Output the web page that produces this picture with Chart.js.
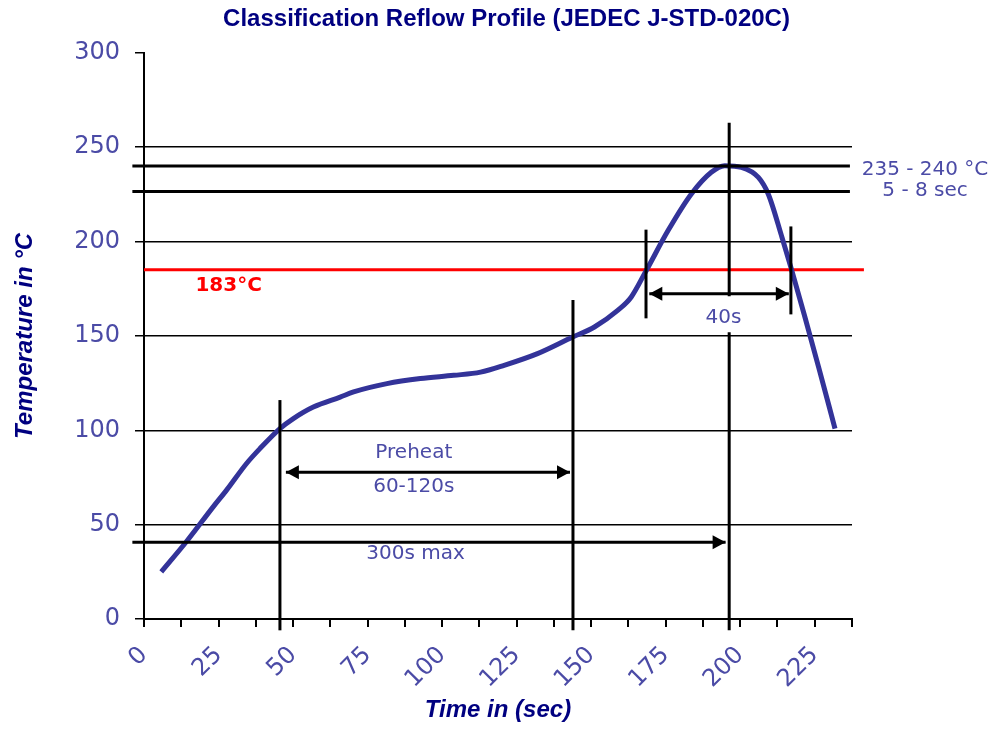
<!DOCTYPE html>
<html>
<head>
<meta charset="utf-8">
<title>Classification Reflow Profile</title>
<script src="https://cdn.jsdelivr.net/npm/chart.js@4.4.0/dist/chart.umd.min.js"></script>
<style>
    html, body { margin: 0; padding: 0; background: #fff; }
</style>
</head>
<body>
<canvas id="reflow" width="993" height="729"></canvas>
<script>
// profile curve
const timeSec = [5.8, 14.2, 23.2, 27.7, 34.4, 38.9, 45.6, 50.1, 56.8, 65.8, 70.3, 81.5, 92.7, 103.9,
    112.9, 120.8, 132, 143.8, 151.1, 158.9, 163.4, 168.5, 175.8, 183.6, 190.3, 194.8, 200.4, 206.1,
    209.4, 214, 217.3, 221.7, 226.3, 231.8];
const tempC = [25.0, 40.9, 59.4, 68.3, 82.4, 90.3, 100.9, 106.2, 112.3, 117.6, 120.3, 124.7, 127.4, 129.1,
    130.8, 134.4, 140.6, 149.4, 154.7, 163.5, 170.5, 184.7, 205.8, 225.2, 236.7, 240.2, 239.3, 234,
    225.2, 202.3, 184.7, 160, 133.5, 100.9];

// axis ticks
const xTicks = [0, 12.5, 25, 37.5, 50, 62.5, 75, 87.5, 100, 112.5, 125, 137.5, 150, 162.5, 175,
    187.5, 200, 212.5, 225, 237.5];
const xLabelEvery = 25;
const yTicks = [0, 50, 100, 150, 200, 250, 300];

// marker lines, [x1, y1, x2, y2] in sec / °C
const blackSegments = [
    [-3.9, 240, 236.8, 240],
    [-3.9, 226.5, 236.8, 226.5],
    [45.6, -6, 45.6, 116],
    [143.9, -6, 143.9, 169],
    [196.3, 263, 196.3, 171],
    [196.3, 152, 196.3, -6],
    [168.4, 159.3, 168.4, 206.3],
    [217.0, 161.4, 217.0, 208]
];
const liquidusSegment = [0, 185, 241.5, 185];

// arrows, [x from, x to, y, heads]
const arrows = [
    [47.6, 142.9, 77.8, 'both'],
    [169.5, 216.3, 172.3, 'both'],
    [-3.9, 195.1, 40.7, 'end']
];

// text notes
const noteTexts = ['Preheat', '60-120s', '300s max', '40s', '235 - 240 °C', '5 - 8 sec'];
const noteX = [90.5, 90.5, 91.1, 194.4, 262, 262];
const noteY = [87.8, 69.8, 34.4, 159.8, 238.1, 227];

const BLUE_TEXT = '#4b4ba6';
const NAVY = '#000080';

function segData(s) {
    return [{ x: s[0], y: s[1] }, { x: s[2], y: s[3] }];
}

const datasets = [{
    data: timeSec.map((t, i) => ({ x: t, y: tempC[i] })),
    showLine: true,
    borderColor: '#333399',
    borderWidth: 5,
    pointRadius: 0,
    cubicInterpolationMode: 'monotone',
    clip: false,
    order: 2
}, {
    data: segData(liquidusSegment),
    showLine: true,
    borderColor: '#ff0000',
    borderWidth: 3,
    pointRadius: 0,
    clip: false,
    order: 3
}];

blackSegments.forEach(s => {
    datasets.push({
        data: segData(s),
        showLine: true,
        borderColor: '#000',
        borderWidth: 3,
        pointRadius: 0,
        clip: false,
        order: 1
    });
});
arrows.forEach(a => {
    datasets.push({
        data: [{ x: a[0], y: a[2] }, { x: a[1], y: a[2] }],
        showLine: true,
        borderColor: '#000',
        borderWidth: 3,
        pointRadius: 0,
        clip: false,
        order: 1
    });
});

// arrow heads and text notes
const notesPlugin = {
    id: 'reflowNotes',
    afterDatasetsDraw(chart) {
        const ctx = chart.ctx;
        const xs = chart.scales.x;
        const ys = chart.scales.y;
        ctx.save();

        ctx.fillStyle = '#000';
        const head = (px, py, dir) => {
            ctx.beginPath();
            ctx.moveTo(px, py);
            ctx.lineTo(px - dir * 13, py - 7);
            ctx.lineTo(px - dir * 13, py + 7);
            ctx.closePath();
            ctx.fill();
        };
        arrows.forEach(a => {
            const py = ys.getPixelForValue(a[2]);
            if (a[3] === 'both') head(xs.getPixelForValue(a[0]), py, -1);
            head(xs.getPixelForValue(a[1]), py, 1);
        });

        ctx.textAlign = 'center';
        ctx.textBaseline = 'middle';
        ctx.fillStyle = BLUE_TEXT;
        ctx.font = '20px "DejaVu Sans"';
        noteTexts.forEach((t, i) => {
            ctx.fillText(t, xs.getPixelForValue(noteX[i]), ys.getPixelForValue(noteY[i]));
        });

        ctx.fillStyle = '#ff0000';
        ctx.font = 'bold 20px "DejaVu Sans"';
        ctx.fillText('183°C', xs.getPixelForValue(28.4), ys.getPixelForValue(176.7));

        ctx.restore();
    }
};

new Chart(document.getElementById('reflow'), {
    type: 'scatter',
    data: { datasets: datasets },
    plugins: [notesPlugin],
    options: {
        responsive: false,
        animation: false,
        layout: { padding: { left: 20, right: 0, top: 0, bottom: 0 } },
        plugins: {
            legend: { display: false },
            tooltip: { enabled: false },
            title: {
                display: true,
                text: 'Classification Reflow Profile (JEDEC J-STD-020C)',
                color: NAVY,
                font: { family: '"Liberation Sans", Arial', size: 24, weight: 'bold', lineHeight: 1.2 },
                padding: { top: 5, bottom: 19 }
            }
        },
        scales: {
            x: {
                type: 'linear',
                min: 0,
                max: 237.5,
                afterBuildTicks: s => { s.ticks = xTicks.map(v => ({ value: v })); },
                afterFit: s => { s.height = 110; },
                grid: { drawOnChartArea: false, drawTicks: true, tickLength: 8, color: '#000', lineWidth: 2 },
                border: { color: '#000', width: 2 },
                ticks: {
                    autoSkip: false,
                    minRotation: 45,
                    maxRotation: 45,
                    padding: 14,
                    color: BLUE_TEXT,
                    font: { family: '"DejaVu Sans"', size: 24 },
                    callback: v => (v % xLabelEvery === 0 ? String(v) : '')
                },
                title: {
                    display: true,
                    text: 'Time in (sec)',
                    color: NAVY,
                    font: { family: '"Liberation Sans", Arial', size: 24, weight: 'bold', style: 'italic' },
                    padding: { top: 0, bottom: 4 }
                }
            },
            y: {
                min: 0,
                max: 300,
                afterBuildTicks: s => { s.ticks = yTicks.map(v => ({ value: v })); },
                afterFit: s => { s.width = 124; },
                grid: {
                    tickLength: 9,
                    lineWidth: 1.5,
                    color: c => (c.tick && c.tick.value === 300 ? 'rgba(0,0,0,0)' : '#000'),
                    tickColor: '#000'
                },
                border: { color: '#000', width: 2 },
                ticks: {
                    padding: 15,
                    color: BLUE_TEXT,
                    font: { family: '"DejaVu Sans"', size: 24 }
                },
                title: {
                    display: true,
                    text: 'Temperature in °C',
                    color: NAVY,
                    font: { family: '"Liberation Sans", Arial', size: 24, weight: 'bold', style: 'italic', lineHeight: 1 },
                    padding: { top: -7, bottom: 0 }
                }
            },
            yRight: {
                position: 'right',
                display: true,
                min: 0,
                max: 300,
                afterFit: s => { s.width = 141; },
                grid: { display: false },
                border: { display: false },
                ticks: { display: false }
            }
        }
    }
});
</script>
</body>
</html>
